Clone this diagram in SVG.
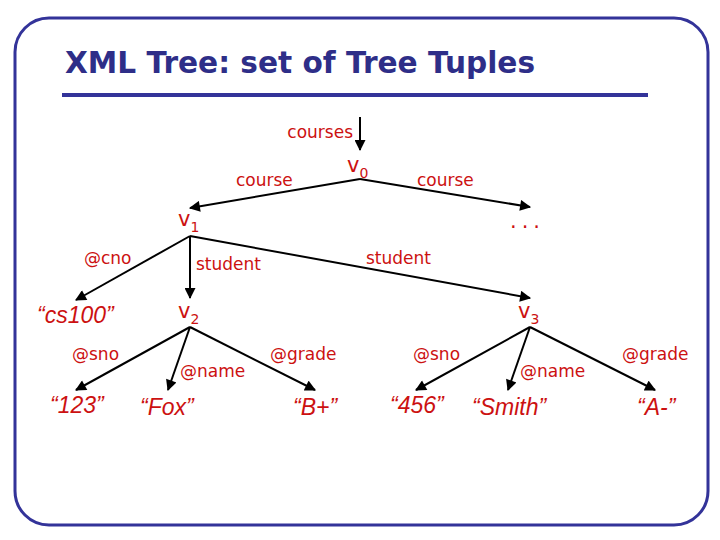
<svg xmlns="http://www.w3.org/2000/svg" width="720" height="540" viewBox="0 0 720 540">
<defs>
<marker id="ah" viewBox="0 0 10 10" refX="9" refY="5" markerWidth="13" markerHeight="11" markerUnits="userSpaceOnUse" orient="auto"><path d="M0,0 L10,5 L0,10 z" fill="#000"/></marker>
<style>
.e{stroke:#000;stroke-width:2;fill:none;marker-end:url(#ah)}
text{font-family:"DejaVu Sans","Liberation Sans",sans-serif;fill:#cc1111}
.l{font-size:17px}
.v{font-size:21px}
.s{font-size:14px}
.i{font-family:"Liberation Sans",Arial,sans-serif;font-style:italic;font-size:23px}
</style>
</defs>
<rect x="15" y="18" width="693" height="507" rx="34" fill="#fff" stroke="#333399" stroke-width="3"/>
<text x="65" y="73" style="font-family:'DejaVu Sans',sans-serif;font-weight:bold;font-size:31px;fill:#2e2e88" textLength="470" lengthAdjust="spacingAndGlyphs">XML Tree: set of Tree Tuples</text>
<line x1="62" y1="95" x2="648" y2="95" stroke="#333399" stroke-width="4"/>
<g id="connectors">
<line class="e" x1="360" y1="117" x2="360" y2="150"/>
<line class="e" x1="360" y1="179" x2="190" y2="208"/>
<line class="e" x1="360" y1="179" x2="530" y2="207"/>
<line class="e" x1="190" y1="236" x2="76" y2="300"/>
<line class="e" x1="190" y1="236" x2="190" y2="298"/>
<line class="e" x1="190" y1="236" x2="530" y2="298"/>
<line class="e" x1="190" y1="327" x2="76" y2="390"/>
<line class="e" x1="190" y1="327" x2="168" y2="390"/>
<line class="e" x1="190" y1="327" x2="315" y2="390"/>
<line class="e" x1="530" y1="327" x2="416" y2="390"/>
<line class="e" x1="530" y1="327" x2="508" y2="390"/>
<line class="e" x1="530" y1="327" x2="655" y2="390"/>
<text class="l" x="353" y="138" text-anchor="end">courses</text>
<text class="l" x="236" y="186">course</text>
<text class="l" x="417" y="186">course</text>
<text class="l" x="84" y="264">@cno</text>
<text class="l" x="196" y="270">student</text>
<text class="l" x="366" y="264">student</text>
<text class="l" x="72" y="360">@sno</text>
<text class="l" x="180" y="377">@name</text>
<text class="l" x="270" y="360">@grade</text>
<text class="l" x="413" y="360">@sno</text>
<text class="l" x="520" y="377">@name</text>
<text class="l" x="622" y="360">@grade</text>
</g>
<g id="v0"><text class="v" x="347" y="172">v<tspan class="s" dy="6">0</tspan></text></g>
<g id="more"><text class="v" x="510" y="228" letter-spacing="5">...</text></g>
<g id="v1"><text class="v" x="178" y="226">v<tspan class="s" dy="6">1</tspan></text></g>
<g id="cs100"><text class="i" x="37" y="323">“cs100”</text></g>
<g id="v2"><text class="v" x="178" y="318">v<tspan class="s" dy="6">2</tspan></text></g>
<g id="v3"><text class="v" x="518" y="318">v<tspan class="s" dy="6">3</tspan></text></g>
<g id="n123"><text class="i" x="50" y="413">“123”</text></g>
<g id="fox"><text class="i" x="140" y="415">“Fox”</text></g>
<g id="bplus"><text class="i" x="293" y="415">“B+”</text></g>
<g id="n456"><text class="i" x="390" y="413">“456”</text></g>
<g id="smith"><text class="i" x="472" y="415">“Smith”</text></g>
<g id="aminus"><text class="i" x="637" y="415">“A-”</text></g>
</svg>
